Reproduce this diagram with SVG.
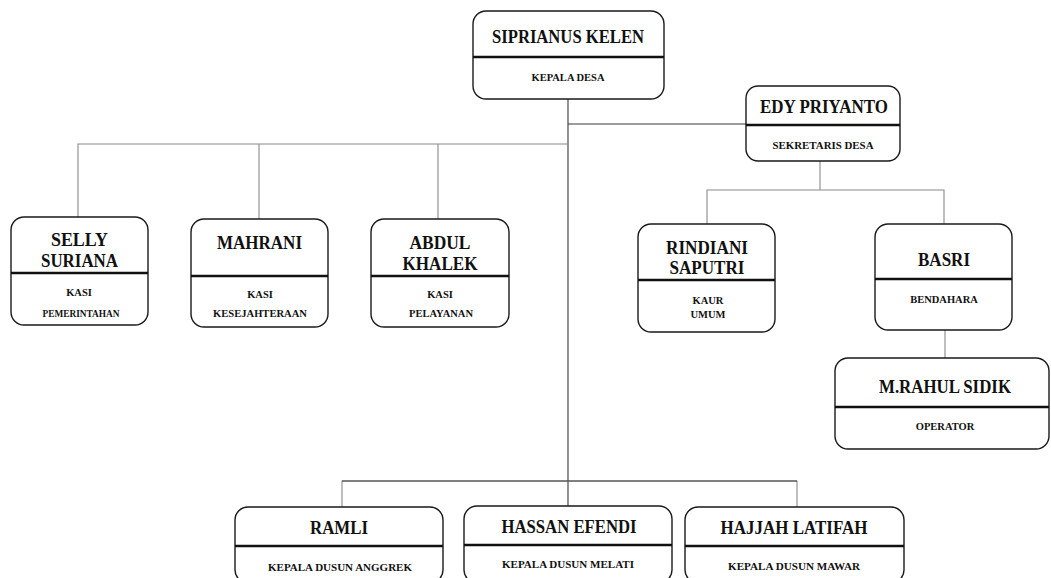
<svg xmlns="http://www.w3.org/2000/svg" width="1051" height="578" viewBox="0 0 1051 578">
<style>
.box{fill:#fff;stroke:#1a1a1a;stroke-width:1.4}
.div{stroke:#111;stroke-width:2.6}
.nm{font-family:"Liberation Serif","Times New Roman",serif;font-weight:bold;font-size:19px;fill:#111;text-anchor:middle}
.sb{font-family:"Liberation Serif","Times New Roman",serif;font-weight:bold;font-size:10.5px;fill:#111;text-anchor:middle}
.ln{fill:none;stroke:#8a8a8a;stroke-width:1.1}
.dk{fill:none;stroke:#3a3a3a;stroke-width:1.1}
</style>
<rect width="1051" height="578" fill="#fff"/>
<g id="connectors">
<path class="dk" d="M568 99V506"/>
<path class="dk" d="M568 124H746"/>
<path class="ln" d="M78 217V144H568M259 144V219M438 144V219"/>
<path class="ln" d="M820 161V190M707 224V190H944V224"/>
<path class="ln" d="M945 330V358"/>
<path class="ln" d="M342 507V481H797V507"/>
<path class="dk" d="M342 481H797"/>
</g>
<g id="siprianus">
<rect class="box" x="473" y="11" width="191" height="88" rx="13"/>
<line class="div" x1="473" y1="57" x2="664" y2="57"/>
<text class="nm" x="568" y="43" textLength="152" lengthAdjust="spacingAndGlyphs">SIPRIANUS KELEN</text>
<text class="sb" x="568" y="81">KEPALA DESA</text>
</g>
<g id="edy">
<rect class="box" x="746" y="86" width="154" height="75" rx="12"/>
<line class="div" x1="746" y1="125" x2="900" y2="125"/>
<text class="nm" x="824" y="113" textLength="128" lengthAdjust="spacingAndGlyphs">EDY PRIYANTO</text>
<text class="sb" x="823" y="149" textLength="101" lengthAdjust="spacingAndGlyphs">SEKRETARIS DESA</text>
</g>
<g id="selly">
<rect class="box" x="11" y="217" width="137" height="108" rx="13"/>
<line class="div" x1="11" y1="273" x2="148" y2="273"/>
<text class="nm" x="79.5" y="246" textLength="57" lengthAdjust="spacingAndGlyphs">SELLY</text>
<text class="nm" x="79.5" y="267" textLength="77" lengthAdjust="spacingAndGlyphs">SURIANA</text>
<text class="sb" x="79" y="296">KASI</text>
<text class="sb" x="81" y="317" textLength="77" lengthAdjust="spacingAndGlyphs">PEMERINTAHAN</text>
</g>
<g id="mahrani">
<rect class="box" x="191" y="219" width="137" height="108" rx="13"/>
<line class="div" x1="191" y1="276" x2="328" y2="276"/>
<text class="nm" x="259.5" y="249" textLength="85" lengthAdjust="spacingAndGlyphs">MAHRANI</text>
<text class="sb" x="260" y="298">KASI</text>
<text class="sb" x="260" y="317" textLength="94" lengthAdjust="spacingAndGlyphs">KESEJAHTERAAN</text>
</g>
<g id="abdul">
<rect class="box" x="371" y="219" width="138" height="108" rx="13"/>
<line class="div" x1="371" y1="276" x2="509" y2="276"/>
<text class="nm" x="440" y="249" textLength="61" lengthAdjust="spacingAndGlyphs">ABDUL</text>
<text class="nm" x="440" y="270" textLength="75" lengthAdjust="spacingAndGlyphs">KHALEK</text>
<text class="sb" x="440" y="298">KASI</text>
<text class="sb" x="441" y="317">PELAYANAN</text>
</g>
<g id="rindiani">
<rect class="box" x="638" y="224" width="137" height="108" rx="13"/>
<line class="div" x1="638" y1="280" x2="775" y2="280"/>
<text class="nm" x="707" y="254" textLength="82" lengthAdjust="spacingAndGlyphs">RINDIANI</text>
<text class="nm" x="707" y="274" textLength="75" lengthAdjust="spacingAndGlyphs">SAPUTRI</text>
<text class="sb" x="708" y="304">KAUR</text>
<text class="sb" x="708" y="318">UMUM</text>
</g>
<g id="basri">
<rect class="box" x="875" y="224" width="137" height="106" rx="13"/>
<line class="div" x1="875" y1="279" x2="1012" y2="279"/>
<text class="nm" x="944" y="266" textLength="52" lengthAdjust="spacingAndGlyphs">BASRI</text>
<text class="sb" x="944" y="303">BENDAHARA</text>
</g>
<g id="rahul">
<rect class="box" x="835" y="358" width="214" height="91" rx="13"/>
<line class="div" x1="835" y1="407" x2="1049" y2="407"/>
<text class="nm" x="945" y="393" textLength="132" lengthAdjust="spacingAndGlyphs">M.RAHUL SIDIK</text>
<text class="sb" x="945" y="430">OPERATOR</text>
</g>
<g id="ramli">
<rect class="box" x="235" y="507" width="208" height="76" rx="13"/>
<line class="div" x1="235" y1="546" x2="443" y2="546"/>
<text class="nm" x="339" y="534" textLength="58" lengthAdjust="spacingAndGlyphs">RAMLI</text>
<text class="sb" x="340" y="571" textLength="144" lengthAdjust="spacingAndGlyphs">KEPALA DUSUN  ANGGREK</text>
</g>
<g id="hassan">
<rect class="box" x="464" y="506" width="208" height="77" rx="13"/>
<line class="div" x1="464" y1="545" x2="672" y2="545"/>
<text class="nm" x="569" y="533" textLength="135" lengthAdjust="spacingAndGlyphs">HASSAN EFENDI</text>
<text class="sb" x="568" y="568" textLength="132" lengthAdjust="spacingAndGlyphs">KEPALA DUSUN  MELATI</text>
</g>
<g id="hajjah">
<rect class="box" x="685" y="507" width="219" height="76" rx="13"/>
<line class="div" x1="685" y1="546" x2="904" y2="546"/>
<text class="nm" x="794" y="534" textLength="147" lengthAdjust="spacingAndGlyphs">HAJJAH LATIFAH</text>
<text class="sb" x="794" y="570" textLength="132" lengthAdjust="spacingAndGlyphs">KEPALA DUSUN  MAWAR</text>
</g>
</svg>
